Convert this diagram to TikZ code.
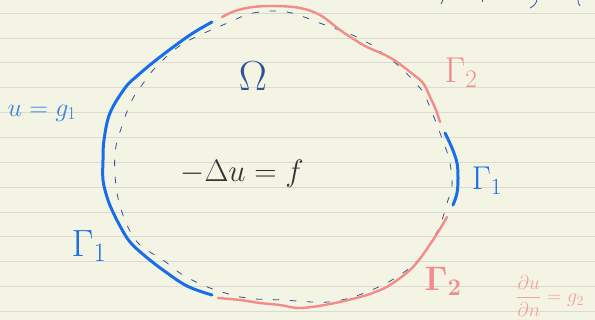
\RequirePackage{fix-cm}
\documentclass[tikz,border=0pt]{standalone}
\usepackage{amsmath,amssymb}
\usepackage{xcolor}
\usepackage{tikz}
\usetikzlibrary{positioning,calc}

\definecolor{paper}{RGB}{244,244,228}
\definecolor{ruleline}{RGB}{218,218,210}
\definecolor{diriblue}{RGB}{24,110,232}
\definecolor{neumred}{RGB}{242,140,138}
\definecolor{inkblue}{RGB}{44,84,150}
\definecolor{labelblue}{RGB}{52,132,226}
\definecolor{labelred}{RGB}{244,160,158}

\tikzset{
  ruling/.style={ruleline, line width=1pt},
  dirichlet/.style={diriblue, line width=3pt, line cap=round, line join=round},
  neumann/.style={neumred, line width=2.4pt, line cap=round, line join=round},
  outline/.style={inkblue, line width=0.8pt, dash pattern=on 6pt off 11pt, line cap=round},
  bigtext/.style={inner sep=0pt, font=\fontsize{#1}{#1}\selectfont},
}

\begin{document}
\begin{tikzpicture}[x=1pt, y=-1pt]
  % paper
  \useasboundingbox (0,0) rectangle (595,320);
  \fill[paper] (0,0) rectangle (595,320);
  \foreach \k in {0,...,12}
    \draw[ruling] (0,13.3+24.85*\k) -- (595,13.3+24.85*\k);

  % cut-off strokes at the top edge
  \draw[inkblue, line width=0.8pt] (443,0) to[bend right=20] (441,4);
  \draw[inkblue, line width=0.8pt] (482,0) -- (482,2);
  \draw[inkblue, line width=0.8pt] (537,0) to[bend left=25] (530,8);
  \draw[inkblue, line width=0.8pt] (578,0) to[bend right=20] (580,6);

  % domain outline (dashed)
  \draw[outline] plot[smooth cycle, tension=0.6] coordinates {
    (230,22) (253,13) (287,12) (325,25) (350,34) (370,44) (382,53) (400,67)
    (420,88) (427,100) (440,133) (448,155) (451,170) (452,187) (448,200)
    (443,217) (437,232) (420,258) (397,277) (367,292) (337,301) (313,302)
    (283,300) (255,299) (240,297) (210,288) (183,275) (163,260) (140,245)
    (127,225) (117,193) (115,153) (123,123) (132,100) (142,85) (155,68)
    (178,47) (200,35)};

  % Dirichlet part, left
  \draw[dirichlet] plot[smooth, tension=0.6] coordinates {
    (212,22) (190,35) (160,57) (137,76) (125,88) (110,113) (104,140)
    (103,160) (103,180) (107,197) (112,210) (120,226) (130,242) (145,256)
    (163,270) (187,286) (212,295)};
  % Dirichlet part, right
  \draw[dirichlet] plot[smooth, tension=0.6] coordinates {
    (445,133) (452,148) (457,163) (458,178) (457,193) (453,205)};

  % Neumann part, top
  \draw[neumann] plot[smooth, tension=0.6] coordinates {
    (222,17) (235,11) (253,7) (275,6) (300,8) (320,15) (340,30) (355,40)
    (367,47) (385,55) (397,62) (410,72) (423,83) (430,97) (436,110) (440,122)};
  % Neumann part, bottom
  \draw[neumann] plot[smooth, tension=0.6] coordinates {
    (218,298) (240,300) (260,303) (280,305) (300,308) (330,304) (360,297)
    (375,292) (390,285) (413,267) (433,240) (447,217)};

  % labels
  \node[bigtext=42, text=inkblue] (omega) at (253,76) {$\Omega$};
  \node[bigtext=31, text=black!80] (pde) at (242,174) {$-\Delta u = f$};
  \node[bigtext=26, text=labelblue] (bcleft) at (42,113) {$u = g_1$};
  \node[bigtext=36, text=neumred] (gammatop) at (461,73) {$\Gamma_2$};
  \node[bigtext=33, text=diriblue] (gammaright) at (487,181) {$\Gamma_1$};
  \node[bigtext=38, text=diriblue] (gammaleft) at (89,246) {$\Gamma_1$};
  \node[bigtext=34, text=neumred] (gammabot) at (443,281) {$\boldsymbol{\Gamma_2}$};
  \node[bigtext=20, text=labelred] (bcbot) at (550,296) {$\dfrac{\partial u}{\partial n} = g_2$};
\end{tikzpicture}
\end{document}
